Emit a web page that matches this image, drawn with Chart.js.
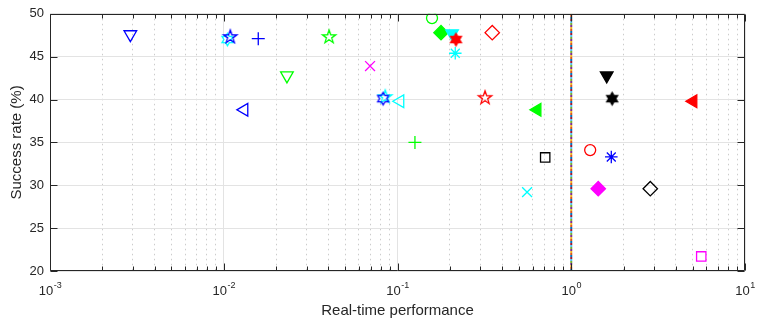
<!DOCTYPE html>
<html>
<head>
<meta charset="utf-8">
<title>Success rate vs real-time performance</title>
<script src="https://cdn.jsdelivr.net/npm/chart.js@4.4.0/dist/chart.umd.min.js"></script>
<style>
  html, body { margin: 0; padding: 0; background: #fff; }
  #wrap { width: 762px; height: 321px; }
</style>
</head>
<body>
<div id="wrap"><canvas id="chart"></canvas></div>
<script>
// Success rate vs real-time performance (log x axis, one marker per method)

const perf = [0.0029, 0.0105, 0.0109, 0.0158, 0.0131, 0.0231, 0.0404, 0.0695,
              0.0850, 0.0826, 0.1035, 0.126, 0.158, 0.178, 0.206, 0.217, 0.215,
              0.351, 0.319, 0.637, 0.557, 0.708, 1.285, 1.70, 1.43, 2.85, 5.6,
              1.60, 1.72, 5.03];
const success = [47.6, 47.0, 47.3, 47.1, 38.8, 42.8, 47.3, 43.9,
                 40.3, 40.1, 39.8, 35.0, 49.5, 47.8, 47.7, 47.0, 45.4,
                 47.8, 40.2, 38.8, 29.2, 33.25, 34.1, 33.3, 29.6, 29.6, 21.7,
                 42.8, 40.1, 39.8];

// marker code, colour and fill for each point above
const markers = ['v', 'h', 'p', '+', '<', 'v', 'p', 'x',
                 'p', 'h', '<', '+', 'o', 'd', 'v', 'h', '*',
                 'd', 'p', '<', 'x', 's', 'o', '*', 'd', 'd', 's',
                 'v', 'h', '<'];
const colors = ['#0000ff', '#00ffff', '#0000ff', '#0000ff', '#0000ff', '#00ff00', '#00ff00', '#ff00ff',
                '#00ffff', '#0000ff', '#00ffff', '#00ff00', '#00ff00', '#00ff00', '#00ffff', '#ff0000', '#00ffff',
                '#ff0000', '#ff0000', '#00ff00', '#00ffff', '#000000', '#ff0000', '#0000ff', '#ff00ff', '#000000', '#ff00ff',
                '#000000', '#000000', '#ff0000'];
const filled = [false, false, false, false, false, false, false, false,
                false, false, false, false, false, true, true, true, false,
                false, false, true, false, false, false, false, true, false, false,
                true, true, true];

const xTicks = [0.001, 0.01, 0.1, 1, 10];
const yTicks = [20, 25, 30, 35, 40, 45, 50];

// real-time threshold line
const thresholdX = [1, 1];
const thresholdY = [20, 50];
const lineColors = ['#0072BD', '#D95319', '#EDB120', '#7E2F8E', '#77AC30', '#4DBEEE', '#A2142F'];

const FONT = "'Liberation Sans', Arial, Helvetica, sans-serif";
const TEXT = '#262626';

// minor grid positions for the log axis: 1..9 in every decade
const xGrid = [];
for (let i = 0; i < xTicks.length - 1; i++) {
    for (let k = 1; k < 10; k++) xGrid.push(xTicks[i] * k);
}
xGrid.push(xTicks[xTicks.length - 1]);

function isDecade(v) {
    const l = Math.log10(v);
    return Math.abs(l - Math.round(l)) < 1e-6;
}

function starImage(points, outer, inner, color, fill) {
    const size = Math.ceil(outer * 2 + 4);
    const c = document.createElement('canvas');
    c.width = size; c.height = size;
    const g = c.getContext('2d');
    g.beginPath();
    for (let i = 0; i < points * 2; i++) {
        const r = i % 2 ? inner : outer;
        const a = -Math.PI / 2 + i * Math.PI / points;
        g.lineTo(size / 2 + r * Math.cos(a), size / 2 + r * Math.sin(a));
    }
    g.closePath();
    g.lineWidth = 1.3;
    g.strokeStyle = color;
    if (fill) { g.fillStyle = color; g.fill(); }
    g.stroke();
    return c;
}

function markerStyle(code, color, fill) {
    const s = { pointStyle: 'circle', radius: 6, rotation: 0 };
    switch (code) {
        case 'o': s.radius = 5.5; break;
        case 's': s.pointStyle = 'rect'; s.radius = 6.6; break;
        case 'd': s.pointStyle = 'rectRot'; s.radius = 7.2; break;
        case '+': s.pointStyle = 'cross'; s.radius = 6.5; break;
        case 'x': s.pointStyle = 'crossRot'; s.radius = 7; break;
        case '*': s.pointStyle = 'star'; s.radius = 6.3; break;
        case 'v': s.pointStyle = 'triangle'; s.rotation = 180; s.radius = 7.3; break;
        case '<': s.pointStyle = 'triangle'; s.rotation = -90; s.radius = 7.3; break;
        case 'p': s.pointStyle = starImage(5, 7, 2.8, color, fill); break;
        case 'h': s.pointStyle = starImage(6, 6.3, 3.6, color, fill); break;
    }
    return s;
}

const datasets = [];
perf.forEach((x, i) => {
    const m = markerStyle(markers[i], colors[i], filled[i]);
    datasets.push({
        type: 'scatter',
        data: [{ x: x, y: success[i] }],
        pointStyle: m.pointStyle,
        pointRadius: m.radius,
        pointRotation: m.rotation,
        borderColor: colors[i],
        backgroundColor: filled[i] ? colors[i] : 'rgba(0,0,0,0)',
        borderWidth: 1.3,
        order: perf.length - i
    });
});

lineColors.forEach((c, i) => {
    datasets.push({
        type: 'line',
        data: thresholdX.map((x, k) => ({ x: x, y: thresholdY[k] })),
        borderColor: c,
        borderWidth: 2,
        borderDash: [2, 12],
        borderDashOffset: -2 * i,
        pointRadius: 0,
        order: 100 + i
    });
});

// box, inward tick marks and 10^n tick labels
const framePlugin = {
    id: 'frame',
    afterDraw(chart) {
        const { ctx, chartArea: a, scales: { x, y } } = chart;
        const L = Math.round(a.left) + 0.5, R = Math.round(a.right) - 0.5;
        const T = Math.round(a.top) + 0.5, B = Math.round(a.bottom) - 0.5;
        ctx.save();
        ctx.strokeStyle = TEXT;
        ctx.lineWidth = 1;
        ctx.beginPath();
        ctx.rect(L, T, R - L, B - T);
        x.ticks.forEach(t => {
            const px = Math.round(x.getPixelForValue(t.value)) + 0.5;
            const len = t.major ? 7 : 4;
            ctx.moveTo(px, B); ctx.lineTo(px, B - len);
            ctx.moveTo(px, T); ctx.lineTo(px, T + len);
        });
        y.ticks.forEach(t => {
            const py = Math.round(y.getPixelForValue(t.value)) + 0.5;
            ctx.moveTo(L, py); ctx.lineTo(L + 7, py);
            ctx.moveTo(R, py); ctx.lineTo(R - 7, py);
        });
        ctx.stroke();

        ctx.fillStyle = TEXT;
        ctx.textBaseline = 'alphabetic';
        ctx.textAlign = 'left';
        xTicks.forEach(v => {
            const px = x.getPixelForValue(v);
            const sup = String(Math.round(Math.log10(v)));
            ctx.font = '13px ' + FONT;
            const w1 = ctx.measureText('10').width;
            ctx.font = '9px ' + FONT;
            const w2 = ctx.measureText(sup).width;
            const x0 = px - (w1 + w2) / 2;
            ctx.font = '13px ' + FONT;
            ctx.fillText('10', x0, 295);
            ctx.font = '9px ' + FONT;
            ctx.fillText(sup, x0 + w1 + 0.5, 288);
        });
        ctx.restore();
    }
};

new Chart(document.getElementById('chart'), {
    data: { datasets: datasets },
    plugins: [framePlugin],
    options: {
        responsive: true,
        maintainAspectRatio: false,
        animation: false,
        layout: { padding: { top: 11, right: 17, left: 0, bottom: 0 } },
        plugins: {
            legend: { display: false },
            tooltip: { enabled: false }
        },
        scales: {
            x: {
                type: 'logarithmic',
                min: 0.001,
                max: 10,
                afterBuildTicks: scale => {
                    scale.ticks = xGrid.map(v => ({ value: v, major: isDecade(v) }));
                },
                afterFit: scale => { scale.height = 50; },
                ticks: { display: false },
                grid: {
                    drawTicks: false,
                    lineWidth: 1,
                    color: c => isDecade(c.tick.value) ? '#e3e3e3' : '#cccccc'
                },
                border: {
                    display: false,
                    dash: c => (c.tick && isDecade(c.tick.value)) ? [] : [1.5, 3.5]
                },
                title: {
                    display: true,
                    text: 'Real-time performance',
                    color: TEXT,
                    font: { family: FONT, size: 15 },
                    padding: { top: 0, bottom: 1 }
                }
            },
            y: {
                min: 20,
                max: 50,
                afterBuildTicks: scale => {
                    scale.ticks = yTicks.map(v => ({ value: v }));
                },
                afterFit: scale => { scale.width = 50; },
                ticks: {
                    color: TEXT,
                    font: { family: FONT, size: 13 },
                    padding: 6
                },
                grid: { drawTicks: false, color: '#e3e3e3', lineWidth: 1 },
                border: { display: false },
                title: {
                    display: true,
                    text: 'Success rate (%)',
                    color: TEXT,
                    font: { family: FONT, size: 15 },
                    padding: { top: 8, bottom: 0 }
                }
            }
        }
    }
});
</script>
</body>
</html>
